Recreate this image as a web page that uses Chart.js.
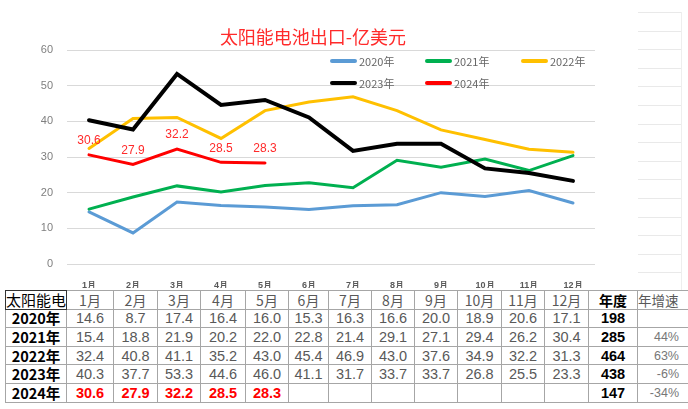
<!DOCTYPE html>
<html>
<head>
<meta charset="utf-8">
<script src="https://cdn.jsdelivr.net/npm/chart.js@4"></script>
<style>
  html, body { margin: 0; padding: 0; background: #fff; }
  body { width: 688px; height: 409px; position: relative; overflow: hidden; font-family: "Liberation Sans", Arial, sans-serif; }
  #chartBox { position: absolute; left: 0; top: 0; width: 688px; height: 288px; }
  #title { position: absolute; left: 0; width: 626px; top: 23px; text-align: center; color: #ff2a2a; font: 18px "Noto Sans CJK SC", sans-serif; }
  #legend { position: absolute; left: 330px; top: 52px; width: 290px; }
  .lg { position: absolute; height: 18px; display: flex; align-items: center; color: #666; font: 11px "Noto Sans CJK SC", sans-serif; }
  .lg i { display: inline-block; width: 27px; height: 4px; border-radius: 2px; margin-right: 2px; }
  #sheet { position: absolute; left: 638px; top: 12px; width: 43px; height: 278px; border-right: 1px solid #eee;
    background: repeating-linear-gradient(to bottom, #e9e9e9 0, #e9e9e9 1px, transparent 1px, transparent 18.6px); }
  table { position: absolute; left: 5px; top: 290px; border-collapse: collapse; table-layout: fixed; background: #fff; }
  tr { height: 18.6px; }
  td { border: 1px solid #a6a6a6; height: 17px; line-height: 16px; padding: 0; text-align: center; font-size: 14.5px; color: #595959; white-space: nowrap; overflow: hidden; }
  tr:first-child td { color: #404040; }
  td.name { color: #000; font-weight: bold; font-family: "Noto Sans CJK SC", sans-serif; font-size: 14.5px; }
  td.corner { color: #000; font-weight: normal; font-family: "Noto Sans CJK SC", sans-serif; font-size: 15px; text-align: left; border-color: #333; }
  td.tot { color: #000; font-weight: bold; font-size: 14.5px; }
  td.gr { font-size: 12.5px; color: #777; text-align: right; padding-right: 9px; }
  td.hd { font-family: "Noto Sans CJK SC", sans-serif; font-size: 14px; }
  td.hdb { color: #000 !important; font-weight: bold; }
  td.red { color: #ff0000; font-weight: bold; }
</style>
</head>
<body>
<div id="sheet"></div>
<div id="chartBox"><canvas id="c"></canvas></div>
<div id="title">太阳能电池出口-亿美元</div>
<div id="legend"></div>
<table id="tbl"></table>
<script>
// 太阳能电池出口（亿美元），数值取自图下方表格
const months = ["1月","2月","3月","4月","5月","6月","7月","8月","9月","10月","11月","12月"];
const years = ["2020年","2021年","2022年","2023年","2024年"];
const v2020 = [14.6, 8.7, 17.4, 16.4, 16.0, 15.3, 16.3, 16.6, 20.0, 18.9, 20.6, 17.1];
const v2021 = [15.4, 18.8, 21.9, 20.2, 22.0, 22.8, 21.4, 29.1, 27.1, 29.4, 26.2, 30.4];
const v2022 = [32.4, 40.8, 41.1, 35.2, 43.0, 45.4, 46.9, 43.0, 37.6, 34.9, 32.2, 31.3];
const v2023 = [40.3, 37.7, 53.3, 44.6, 46.0, 41.1, 31.7, 33.7, 33.7, 26.8, 25.5, 23.3];
const v2024 = [30.6, 27.9, 32.2, 28.5, 28.3];
const totals = ["198", "285", "464", "438", "147"];
const growth = ["", "44%", "63%", "-6%", "-34%"];
const yTicks = [0, 10, 20, 30, 40, 50, 60];

const colors = ["#5b9bd5", "#00b050", "#ffc000", "#000000", "#ff0000"];
const widths = [3, 3, 3, 4, 3];
const series = [v2020, v2021, v2022, v2023, v2024];

// 2024年 数据标签
const labelPlugin = {
  id: "labels2024",
  afterDatasetsDraw(chart){
    const ctx = chart.ctx;
    const meta = chart.getDatasetMeta(4);
    ctx.save();
    ctx.fillStyle = "#ff2a2a";
    ctx.font = "12px 'Liberation Sans', Arial, sans-serif";
    ctx.textAlign = "center";
    ctx.textBaseline = "middle";
    meta.data.forEach((p, i) => {
      ctx.fillText(v2024[i].toFixed(1), p.x, p.y - 14);
    });
    ctx.restore();
  }
};

new Chart(document.getElementById("c"), {
  type: "line",
  data: {
    labels: months,
    datasets: series.map((d, i) => ({
      label: years[i],
      data: d,
      borderColor: colors[i],
      backgroundColor: colors[i],
      borderWidth: widths[i],
      pointRadius: 0,
      tension: 0,
      borderCapStyle: "round",
      borderJoinStyle: "miter",
      order: 4 - i
    }))
  },
  options: {
    responsive: true,
    maintainAspectRatio: false,
    animation: false,
    layout: { padding: { top: 50, right: 93, left: 0, bottom: 0 } },
    plugins: { legend: { display: false }, title: { display: false }, tooltip: { enabled: false } },
    scales: {
      x: {
        offset: true,
        grid: { display: false },
        border: { display: false },
        ticks: { color: "#595959", font: { size: 9, weight: "bold" }, padding: 8, maxRotation: 0, autoSkip: false },
        afterFit(s){ s.height = 24; }
      },
      y: {
        min: 0, max: 60,
        afterBuildTicks(s){ s.ticks = yTicks.map(v => ({ value: v })); },
        grid: { color: "#d9d9d9", lineWidth: 1, drawTicks: false },
        border: { display: false },
        ticks: { color: "#7f7f7f", font: { size: 11 }, padding: 14 },
        afterFit(s){ s.width = 67; }
      }
    }
  },
  plugins: [labelPlugin]
});

// 图例
const legend = document.getElementById("legend");
const legendPos = [[0,0],[95,0],[191,0],[0,22],[95,22]];
years.forEach((y, i) => {
  const d = document.createElement("div");
  d.className = "lg";
  d.style.left = legendPos[i][0] + "px";
  d.style.top = legendPos[i][1] + "px";
  d.innerHTML = `<i style="background:${colors[i]}"></i>${y}`;
  legend.appendChild(d);
});

// 表格
const colW = [61, 47, 44, 43, 45, 43, 40, 43, 43, 43, 44, 43, 44, 49, 51];
const tbl = document.getElementById("tbl");
const cg = document.createElement("colgroup");
colW.forEach(w => { const c = document.createElement("col"); c.style.width = w + "px"; cg.appendChild(c); });
tbl.appendChild(cg);
tbl.style.width = colW.reduce((a,b)=>a+b,0) + "px";

const hr = document.createElement("tr");
hr.innerHTML = `<td class="corner">太阳能电</td>` +
  months.map(m => `<td class="hd">${m}</td>`).join("") +
  `<td class="hd hdb">年度</td><td class="hd" style="font-size:13.5px;text-align:left">年增速</td>`;
tbl.appendChild(hr);

series.forEach((d, i) => {
  const tr = document.createElement("tr");
  let html = `<td class="name">${years[i]}</td>`;
  for (let m = 0; m < 12; m++){
    const v = d[m];
    html += `<td class="${i === 4 ? "red" : ""}">${v === undefined ? "" : v.toFixed(1)}</td>`;
  }
  html += `<td class="tot">${totals[i]}</td><td class="gr">${growth[i]}</td>`;
  tr.innerHTML = html;
  tbl.appendChild(tr);
});
</script>
</body>
</html>
